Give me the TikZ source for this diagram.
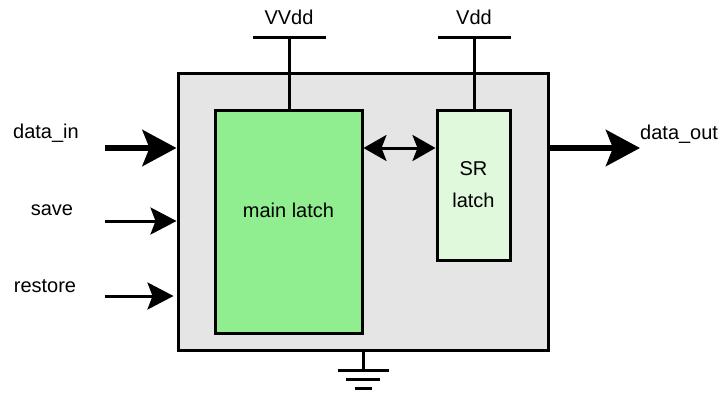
\documentclass[tikz,border=0pt]{standalone}
\usepackage{fontspec}
\setmainfont{Liberation Sans}
\usetikzlibrary{arrows.meta, positioning}
\definecolor{chipc}{RGB}{229,229,229}
\definecolor{mainc}{RGB}{144,238,144}
\definecolor{src}{RGB}{224,248,220}
\tikzset{
  blk/.style={draw, line width=3pt, fill=#1, inner sep=0pt, align=center,
              font=\fontsize{20}{32}\selectfont},
  blk/.default=chipc,
  lbl/.style={font=\fontsize{20}{24}\selectfont, inner sep=0pt},
  bus/.style={-{Stealth[length=34pt, width=36pt, inset=7pt]}, line width=6pt},
  sig/.style={-{Stealth[length=26pt, width=27pt, inset=5pt]}, line width=3pt},
  both/.style={{Stealth[length=23pt, width=26pt, inset=5pt]}-{Stealth[length=23pt, width=26pt, inset=5pt]},
               line width=3pt},
  rail/.style={line width=3pt},
}

\begin{document}
\begin{tikzpicture}[x=1pt, y=-1pt]
  \useasboundingbox (0,0) rectangle (724,392);
  % the retention flop and its two latches
  \node[blk, minimum width=370pt, minimum height=277pt] (chip) at (363,211.5) {};
  \node[blk=mainc, minimum width=147pt, minimum height=223pt] (mainlatch) at (288.5,221.5) {};
  \node[lbl] (mainlbl) at (288.5,210) {main latch};
  \node[blk=src, minimum width=73pt, minimum height=150pt] (srlatch) at (473.5,185) {SR\\latch};

  % supplies
  \coordinate (vvdd) at (289,37);
  \coordinate (vdd) at (474,37);
  \draw[rail] (vvdd) -- (vvdd |- mainlatch.north);
  \draw[rail] ([xshift=-36.5pt]vvdd) -- ([xshift=36.5pt]vvdd);
  \node[lbl, above=12pt of vvdd] (vvddlbl) {VVdd};
  \draw[rail] (vdd) -- (vdd |- srlatch.north);
  \draw[rail] ([xshift=-36.5pt]vdd) -- ([xshift=36.5pt]vdd);
  \node[lbl, above=12pt of vdd] (vddlbl) {Vdd};

  % ground
  \coordinate (gnd) at (363,370);
  \draw[rail] (chip.south) -- (gnd);
  \draw[rail] ([xshift=-25.5pt]gnd) -- ([xshift=25.5pt]gnd);
  \draw[rail] ([xshift=-17pt, yshift=-9pt]gnd) -- ([xshift=17pt, yshift=-9pt]gnd);
  \draw[rail] ([xshift=-8.5pt, yshift=-18pt]gnd) -- ([xshift=8.5pt, yshift=-18pt]gnd);

  % inputs
  \coordinate (din) at (105,148);
  \coordinate (save) at (105,221);
  \coordinate (rest) at (105,296);
  \draw[bus] (din) -- (din -| chip.west);
  \draw[sig] (save) -- (save -| chip.west);
  \draw[sig] (rest) -- ([xshift=-3pt]rest -| chip.west);
  \node[lbl] (dinlbl) at (46,133) {data\_in};
  \node[lbl] (savelbl) at (52,210) {save};
  \node[lbl] (restlbl) at (45,286) {restore};

  % transfer between the latches
  \draw[both] (mainlatch.east |- din) -- (srlatch.west |- din);

  % output
  \coordinate (dout) at (640,148);
  \draw[bus] (chip.east |- dout) -- (dout);
  \node[lbl, anchor=west] (doutlbl) at (640,134) {data\_out};
\end{tikzpicture}
\end{document}
